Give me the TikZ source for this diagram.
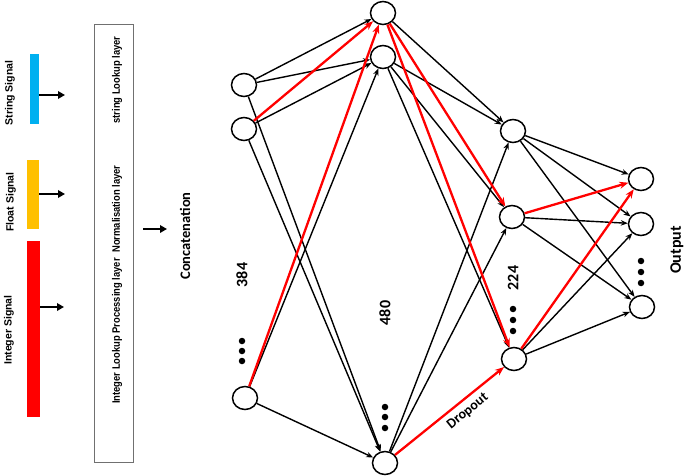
\documentclass[tikz,border=0pt]{standalone}
\usepackage{fontspec}
\usepackage{graphicx}
\setmainfont{Liberation Sans}
\newfontfamily\calfont{Carlito}
\usetikzlibrary{arrows.meta,shapes.geometric}
\definecolor{sigblue}{HTML}{00B0F0}
\definecolor{sigorange}{HTML}{FFC000}
\definecolor{sigred}{HTML}{FF0000}
\definecolor{boxgray}{HTML}{707070}
\begin{document}
\begin{tikzpicture}[x=1pt,y=-1pt,
  neuron/.style={ellipse, draw, line width=1.5pt, minimum width=25pt, minimum height=23pt, inner sep=0pt},
  conn/.style={line width=1.4pt, black, -{Stealth[length=7pt,width=5.5pt]}},
  redconn/.style={line width=2.3pt, sigred, -{Stealth[length=9pt,width=7pt]}},
  dotc/.style={circle, fill=black, inner sep=0pt, minimum size=6.5pt},
  sigbar/.style={rectangle, inner sep=0pt, draw=none},
  sigarrow/.style={line width=2.3pt, -{Triangle[length=7pt,width=7.5pt]}},
  siglabel/.style={rotate=90, font=\bfseries\fontsize{10.5}{12}\selectfont, inner sep=0pt},
  boxlabel/.style={rotate=90, font=\bfseries\fontsize{9.4}{11}\selectfont, inner sep=0pt},
  cnum/.style={rotate=90, font=\calfont\bfseries\fontsize{16}{18}\selectfont, inner sep=0pt},
  ctext/.style={rotate=90, font=\calfont\bfseries\fontsize{14.5}{17}\selectfont, inner sep=0pt}
]
\useasboundingbox (0,0) rectangle (685,476);

% signal bars
\node[sigbar, fill=sigblue, minimum width=9pt, minimum height=70pt] (sbar) at (34.5,89) {};
\node[sigbar, fill=sigorange, minimum width=12pt, minimum height=69pt] (fbar) at (33,194.5) {};
\node[sigbar, fill=sigred, minimum width=13pt, minimum height=176pt] (ibar) at (33.5,329) {};
\coordinate (sa) at (65,95);
\coordinate (fa) at (65,194);
\coordinate (ia) at (64,307);
\draw[sigarrow] (sbar.east |- sa) -- (sa);
\draw[sigarrow] (fbar.east |- fa) -- (fa);
\draw[sigarrow] (ibar.east |- ia) -- (ia);

\node[siglabel] (slab) at (10,93) {String Signal};
\node[siglabel] (flab) at (11,202) {Float Signal};
\node[siglabel] (ilab) at (9,330) {Integer Signal};

% processing box
\node[draw=boxgray, line width=0.8pt, minimum width=39pt, minimum height=438pt, inner sep=0pt] (pbox) at (113.5,243) {};
\node[boxlabel] (t1) at (117,80) {\scalebox{1}[1.15]{string Lookup layer}};
\node[boxlabel] (t2) at (117,209) {\scalebox{1}[1.15]{Normalisation layer}};
\node[boxlabel] (t3) at (117,331) {\scalebox{1}[1.15]{Integer Lookup Processing layer}};

\coordinate (ca) at (143,229);
\coordinate (cb) at (167,229);
\draw[sigarrow] (ca) -- (cb);
\node[ctext] (concat) at (185,236) {Concatenation};

% neurons
\node[neuron] (a1) at (244,85) {};
\node[neuron] (a2) at (244,129) {};
\node[neuron] (a3) at (245,398) {};
\node[neuron] (b1) at (383,13) {};
\node[neuron] (b2) at (383,57) {};
\node[neuron] (b3) at (385,463) {};
\node[neuron] (c1) at (513,131) {};
\node[neuron] (c2) at (512,217) {};
\node[neuron] (c3) at (514,359) {};
\node[neuron] (d1) at (641,179) {};
\node[neuron] (d2) at (641,224) {};
\node[neuron] (d3) at (642,307) {};

% dots
\foreach \yy [count=\i] in {341,351,361} \node[dotc] (da\i) at (242,\yy) {};
\foreach \yy [count=\i] in {407,417,428} \node[dotc] (db\i) at (385,\yy) {};
\foreach \yy [count=\i] in {309,320,331} \node[dotc] (dc\i) at (513,\yy) {};
\foreach \yy [count=\i] in {261,272,283} \node[dotc] (dd\i) at (641,\yy) {};

% layer labels
\node[cnum] (n384) at (242,275) {384};
\node[cnum] (n480) at (385,313) {480};
\node[cnum] (n224) at (513,278) {224};
\node[cnum] (nout) at (677,250) {Output};

% black connections
\draw[conn] (a1) -- (b1);
\draw[conn] (a1) -- (b2);
\draw[conn] (a2) -- (b2);
\draw[conn] (a1) -- (b3);
\draw[conn] (a2) -- (b3);
\draw[conn] (a3) -- (b2);
\draw[conn] (a3) -- (b3);

\draw[conn] (b1) -- (c1);
\draw[conn] (b2) -- (c1);
\draw[conn] (b2) -- (c2);
\draw[conn] (b2) -- (c3);
\draw[conn] (b3) -- (c1);
\draw[conn] (b3) -- (c2);

\draw[conn] (c1) -- (d1);
\draw[conn] (c1) -- (d2);
\draw[conn] (c1) -- (d3);
\draw[conn] (c2) -- (d2);
\draw[conn] (c2) -- (d3);
\draw[conn] (c3) -- (d2);
\draw[conn] (c3) -- (d3);

% red connections
\draw[redconn] (a2) -- (b1);
\draw[redconn] (a3) -- (b1);
\draw[redconn] (b1) -- (c2);
\draw[redconn] (b1) -- (c3);
\draw[redconn] (b3) -- node[sloped, below=5pt, pos=0.6, text=black, font=\calfont\bfseries\fontsize{14}{16}\selectfont, inner sep=0pt] (drop) {Dropout} (c3);
\draw[redconn] (c2) -- (d1);
\draw[redconn] (c3) -- (d1);
\end{tikzpicture}
\end{document}
